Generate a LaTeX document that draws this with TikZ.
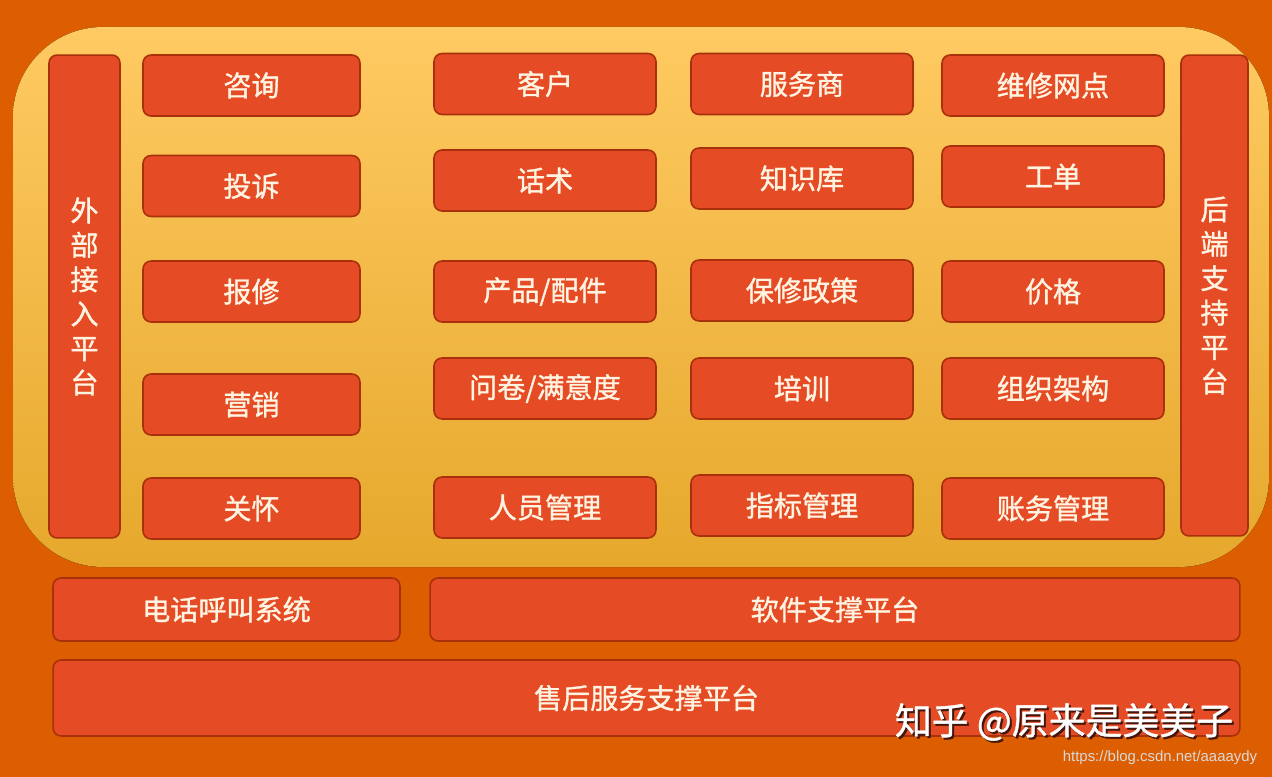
\documentclass[tikz,border=0pt]{standalone}
\usepackage{fontspec}
\newfontfamily\cjk[FakeBold=1.2]{Noto Sans CJK SC}
\newfontfamily\cjkmark[FakeBold=1.0]{Noto Sans CJK SC}
\newfontfamily\urlfont{Liberation Sans}
\definecolor{bgorange}{RGB}{221,94,0}
\definecolor{paneltop}{RGB}{255,202,98}
\definecolor{panelmid}{RGB}{255,190,70}
\definecolor{panelbot}{RGB}{230,168,44}
\definecolor{tilefill}{RGB}{229,75,36}
\definecolor{tileline}{RGB}{168,48,10}
\definecolor{tiletext}{RGB}{255,244,226}
\begin{document}
\begin{tikzpicture}[x=0.02cm, y=-0.02cm, line join=round,
	tile/.style={draw=tileline, fill=tilefill, line width=0.9pt, rounded corners=0.16cm,
		text=tiletext, font=\cjk\fontsize{16}{19.6}\selectfont, inner sep=0pt, align=center},
	cell/.style={tile, minimum width=4.44cm, minimum height=1.22cm}]
	% background and panel
	\fill[bgorange] (0,0) rectangle (1272,777);
	\fill[rounded corners=1.8cm, top color=paneltop, middle color=panelmid, bottom color=panelbot]
		(13,27) rectangle (1269,567);
	
	% side platforms
	\node[tile, minimum width=1.42cm, minimum height=9.66cm] (outer) at (84.5,296.5) {外\\部\\接\\入\\平\\台};
	\node[tile, minimum width=1.34cm, minimum height=9.62cm] (backend) at (1214.5,295.5) {后\\端\\支\\持\\平\\台};
	
	% channels
	\foreach \nm/\y/\txt in {zixun/85.5/咨询, tousu/186/投诉, baoxiu/291.5/报修, yingxiao/404.5/营销, guanhuai/508.5/关怀}
		\node[cell, minimum width=4.34cm] (\nm) at (251.5,\y) {\txt};
	
	% modules
	\foreach \nm/\y/\txt in {kehu/84/客户, huashu/180.5/话术, chanpin/291.5/{产品/配件}, wenjuan/388.5/{问卷/满意度}, renyuan/507.5/人员管理}
		\node[cell] (\nm) at (545,\y) {\txt};
	\foreach \nm/\y/\txt in {fuwushang/84/服务商, zhishi/178.5/知识库, baoxiuzc/290.5/保修政策, peixun/388.5/培训, zhibiao/505.5/指标管理}
		\node[cell] (\nm) at (802,\y) {\txt};
	\foreach \nm/\y/\txt in {wangdian/85.5/维修网点, gongdan/176.5/工单, jiage/291.5/价格, zuzhi/388.5/组织架构, zhangwu/508.5/账务管理}
		\node[cell] (\nm) at (1053,\y) {\txt};
	
	% base layers
	\node[tile, minimum width=6.94cm, minimum height=1.26cm] (phone) at (226.5,609.5) {电话呼叫系统};
	\node[tile, minimum width=16.2cm, minimum height=1.26cm] (software) at (835,609.5) {软件支撑平台};
	\node[tile, minimum width=23.74cm, minimum height=1.52cm] (aftersale) at (646.5,698) {售后服务支撑平台};
	
	% marks
	\node[font=\cjkmark\fontsize{21}{24}\selectfont, text=black!70!tilefill] (markshade) at (1066,724) {知乎 @原来是美美子};
	\node[font=\cjkmark\fontsize{21}{24}\selectfont, text=white] (mark) at (1064,722) {知乎 @原来是美美子};
	\node[font=\urlfont\fontsize{8.5}{10}\selectfont, text=black!15] (url) at (1160,758) {https://blog.csdn.net/aaaaydy};
\end{tikzpicture}
\end{document}
